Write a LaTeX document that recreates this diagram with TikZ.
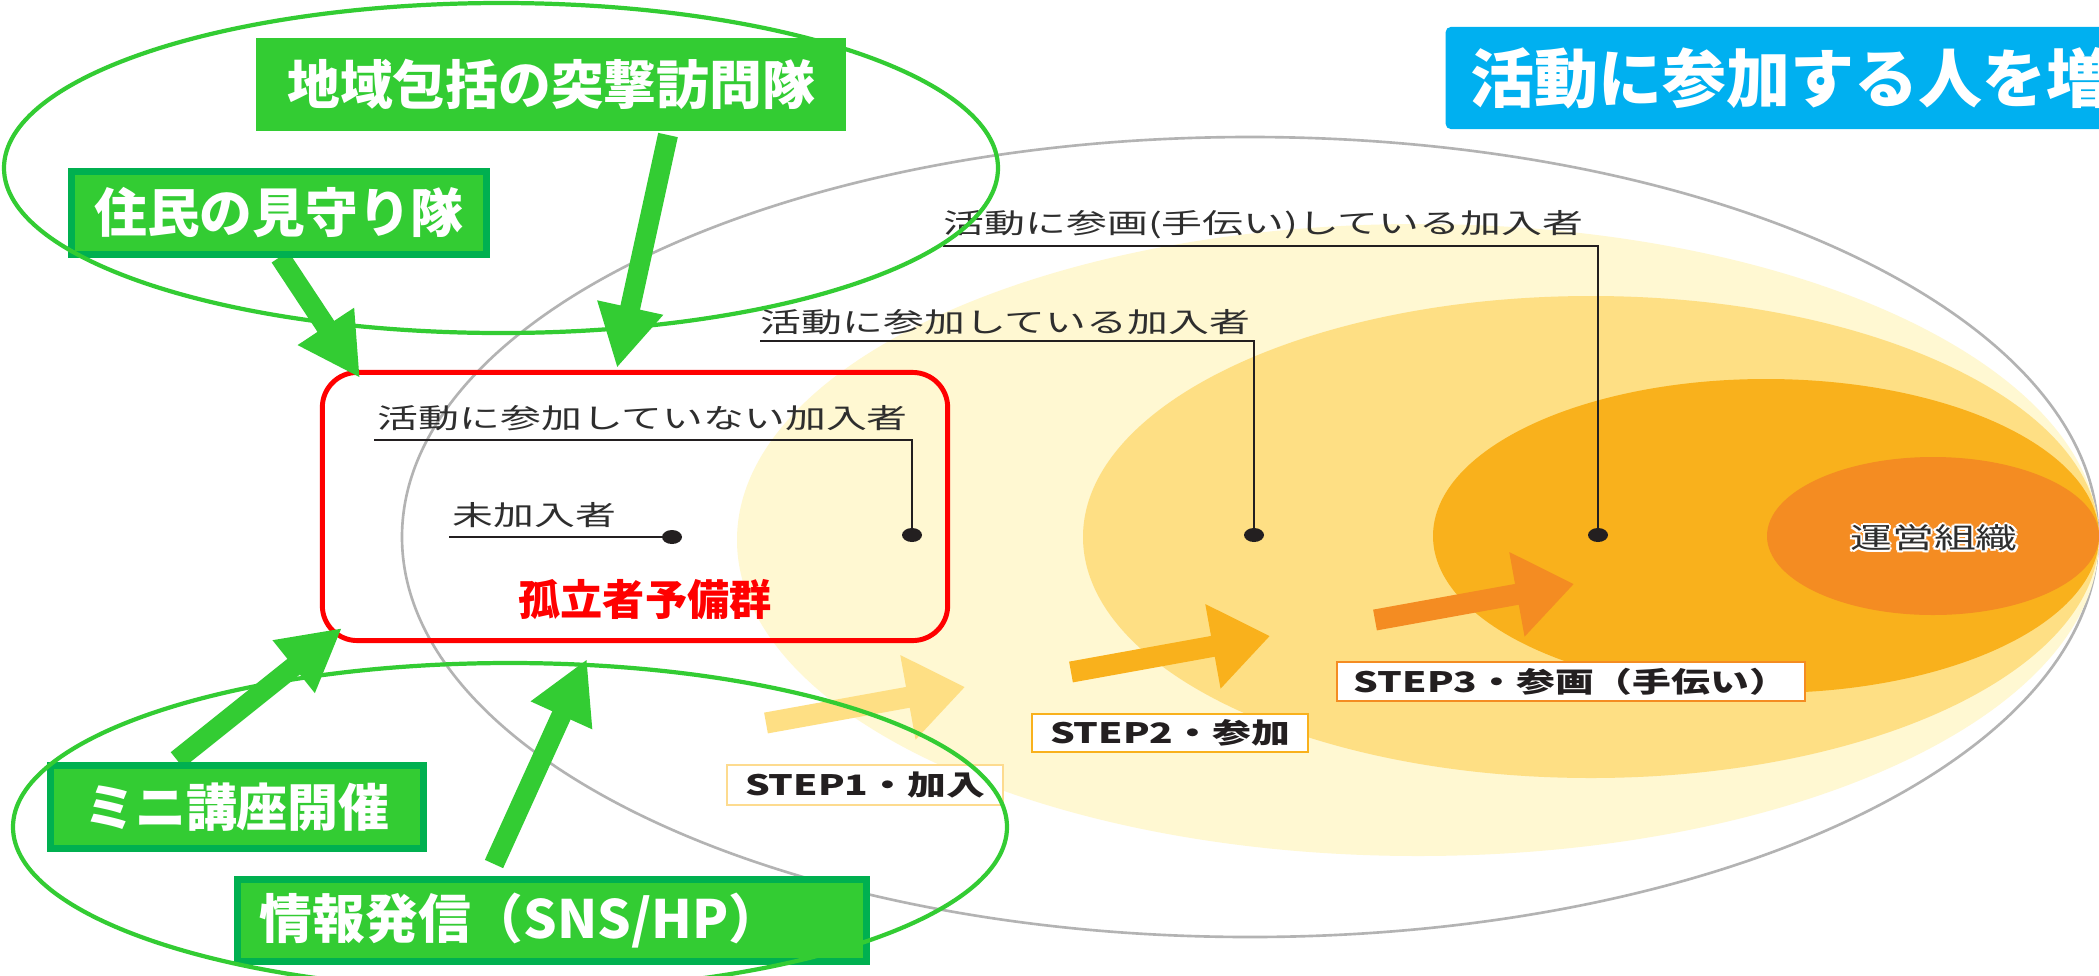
\documentclass[tikz,border=0pt]{standalone}
\usepackage{fontspec}
\setmainfont{Noto Sans CJK JP}
\usepackage{graphicx}
\usetikzlibrary{arrows.meta,calc}
\definecolor{gfill}{HTML}{33CC33}
\definecolor{gborder}{HTML}{00B050}
\definecolor{ylwa}{HTML}{FFF8D2}
\definecolor{ylwb}{HTML}{FEDF84}
\definecolor{ylwc}{HTML}{F9B11C}
\definecolor{ylwd}{HTML}{F48C22}
\definecolor{stepab}{HTML}{FDDB8F}
\definecolor{ttlblue}{HTML}{00B0F0}
\definecolor{ldr}{HTML}{231F20}
\definecolor{txtgray}{HTML}{2E2E2E}
\definecolor{gline}{HTML}{B3B3B3}
\begin{document}
\begin{tikzpicture}[x=0.01cm,y=-0.01cm,
  graytxt/.style={inner sep=0pt, text=txtgray, anchor=west, font=\fontsize{7.8pt}{9pt}\selectfont},
  leader/.style={draw=ldr, line width=0.6pt},
  gbox/.style={fill=gfill, draw=gborder, line width=2pt, text=white, inner sep=0pt},
  gfont/.style={font=\fontsize{15pt}{18pt}\selectfont\bfseries},
  garrow/.style={draw=gfill, line width=5.7pt, -{Triangle[length=17.6pt,width=17.9pt]}},
  oarrow/.style={line width=6pt, -{Triangle[length=16.5pt,width=23.3pt]}},
  steplbl/.style={fill=white, line width=0.7pt, inner sep=0pt, text=ldr, font=\fontsize{8pt}{9pt}\selectfont\bfseries},
  gell/.style={draw=gfill, line width=1.2pt},
  orgtxt/.style={inner sep=0pt, font=\fontsize{8.1pt}{9pt}\selectfont},
]
\useasboundingbox (0,0) rectangle (2099,975);
\begin{scope}
\clip (0,0) rectangle (2099,975);
\fill[white] (0,0) rectangle (2099,975);
% concentric ellipses
\draw[gline, line width=0.75pt] (1250,537) ellipse [x radius=848, y radius=400];
\fill[ylwa] (1418,540) ellipse [x radius=681, y radius=316];
\fill[ylwb] (1591,537) ellipse [x radius=508, y radius=241];
\fill[ylwc] (1766,536) ellipse [x radius=333, y radius=157];
\fill[ylwd] (1933,536) ellipse [x radius=166, y radius=79];

% leader lines and dots
\coordinate (d1) at (912,535);
\coordinate (d2) at (672,537);
\coordinate (d3) at (1254,535);
\coordinate (d4) at (1598,535);
\coordinate (l1a) at (374,440); \coordinate (l1b) at (912,440);
\coordinate (l2a) at (449,537);
\coordinate (l3a) at (760,341); \coordinate (l3b) at (1254,341);
\coordinate (l4a) at (943,246); \coordinate (l4b) at (1598,246);
\draw[leader] (l1a) -- (l1b) -- (d1);
\draw[leader] (l2a) -- (d2);
\draw[leader] (l3a) -- (l3b) -- (d3);
\draw[leader] (l4a) -- (l4b) -- (d4);
\foreach \d in {d1,d2,d3,d4} \fill[ldr] (\d) ellipse [x radius=10, y radius=7];
\node[graytxt] (t1) at (377,418) {\scalebox{1.49}[1]{活動に参加していない加入者}};
\node[graytxt] (t2) at (452,515) {\scalebox{1.49}[1]{未加入者}};
\node[graytxt] (t3) at (760,322) {\scalebox{1.49}[1]{活動に参加している加入者}};
\node[graytxt] (t4) at (943,225) {\scalebox{1.49}[1]{活動に参画(手伝い)している加入者}};
\foreach \a in {0,45,...,315}
  \node[orgtxt, text=white] (orgh\a) at ($(1934,538)+(\a:2.2)$) {\scalebox{1.47}[1]{運営組織}};
\node[orgtxt, text=txtgray] (org) at (1934,538) {\scalebox{1.47}[1]{運営組織}};

% orange step arrows
\coordinate (s1t) at (766,723); \coordinate (s1h) at (965,687);
\coordinate (s2t) at (1071,672); \coordinate (s2h) at (1270,636);
\coordinate (s3t) at (1375,620); \coordinate (s3h) at (1574,584);
\draw[oarrow, draw=ylwb] (s1t) -- (s1h);
\draw[oarrow, draw=ylwc] (s2t) -- (s2h);
\draw[oarrow, draw=ylwd] (s3t) -- (s3h);
\node[steplbl, draw=stepab, minimum width=2.755cm, minimum height=0.395cm] (st1) at (865,785) {\scalebox{1.38}[1]{STEP1・加入}};
\node[steplbl, draw=ylwc, minimum width=2.755cm, minimum height=0.375cm] (st2) at (1170,733) {\scalebox{1.38}[1]{STEP2・参加}};
\node[steplbl, draw=ylwd, minimum width=4.675cm, minimum height=0.385cm] (st3) at (1571,681.5) {\scalebox{1.38}[1]{STEP3・参画（手伝い）}};

% red group box
\node[draw=red, line width=1.4pt, rounded corners=0.35cm, minimum width=6.25cm, minimum height=2.68cm, inner sep=0pt] (grp) at (635,506.5) {};
\node[inner sep=0pt, text=red, font=\fontsize{12pt}{14pt}\selectfont\bfseries] (koritsu) at (645,600) {孤立者予備群};

% green arrows
\coordinate (g1t) at (280,257); \coordinate (g1h) at (360,378);
\coordinate (g2t) at (668,135); \coordinate (g2h) at (617,368);
\coordinate (g3t) at (177,760); \coordinate (g3h) at (342,628);
\coordinate (g4t) at (494,864); \coordinate (g4h) at (587,659);
\draw[garrow] (g1t) -- (g1h);
\draw[garrow] (g2t) -- (g2h);
\draw[garrow] (g3t) -- (g3h);
\draw[garrow] (g4t) -- (g4h);

% green boxes (lower layer)
\node[gbox, gfont, minimum width=4.15cm, minimum height=0.83cm] (jumin) at (279,213) {住民の見守り隊};
\node[gbox, font=\fontsize{14.5pt}{17pt}\selectfont\bfseries, minimum width=3.73cm, minimum height=0.83cm] (mini) at (237,807) {ミニ講座開催};
\node[gbox, font=\fontsize{15pt}{17pt}\selectfont\bfseries, text width=5.84cm, inner xsep=0.225cm, align=left, minimum height=0.82cm] (joho) at (552,920.5) {情報発信（SNS/HP）};

% green ellipses
\draw[gell] (501,168) ellipse [x radius=497, y radius=165];
\draw[gell] (510,827) ellipse [x radius=497, y radius=164];

% top green box
\node[gbox, gfont, draw=gfill, minimum width=5.82cm, minimum height=0.85cm] (chiiki) at (551,84.5) {地域包括の突撃訪問隊};

% title
\node[fill=ttlblue, rounded corners=0.05cm, anchor=west, minimum height=1.02cm, text width=6.7cm, inner xsep=0.25cm, inner ysep=0pt, align=left, text=white, font=\fontsize{18.2pt}{20pt}\selectfont\bfseries] (title) at (1445,78) {活動に参加する人を増};
\end{scope}
\end{tikzpicture}
\end{document}
